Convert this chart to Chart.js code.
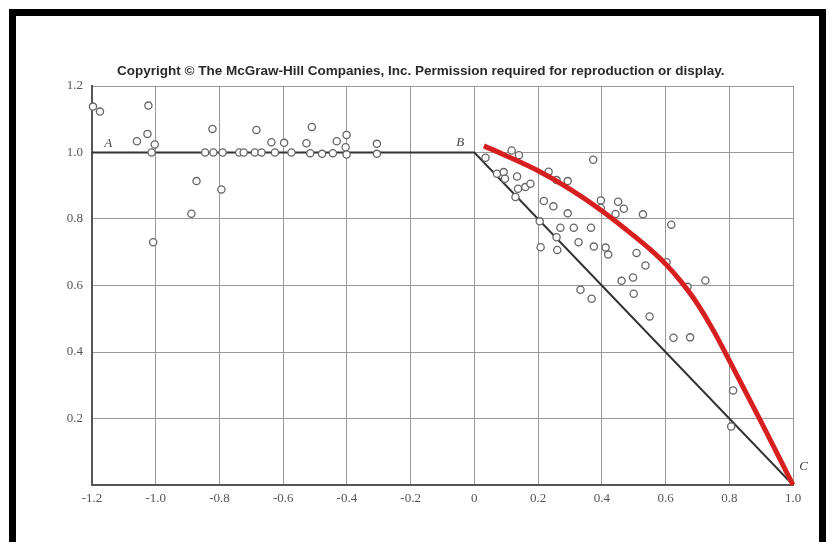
<!DOCTYPE html>
<html>
<head>
<meta charset="utf-8">
<script src="https://cdn.jsdelivr.net/npm/chart.js@4.4.0/dist/chart.umd.min.js"></script>
<style>
  body { margin: 0; background: #fff; }
  #wrap { position: relative; width: 828px; height: 542px; overflow: hidden; }
  #myChart { position: absolute; left: 0; top: 0; filter: blur(0.4px); }
  #frame { position: absolute; left: 9px; top: 9px; width: 803px; height: 540px; border: 7px solid #000; pointer-events: none; }
</style>
</head>
<body>
<div id="wrap">
  <canvas id="myChart" width="828" height="542"></canvas>
  <div id="frame"></div>
</div>
<script>
const ctx = document.getElementById('myChart').getContext('2d');

// tick labels
const xTicks = [-1.2, -1.0, -0.8, -0.6, -0.4, -0.2, 0, 0.2, 0.4, 0.6, 0.8, 1.0];
const yTicks = [0.2, 0.4, 0.6, 0.8, 1.0, 1.2];

// reference line A-B-C
const baseX = [-1.2, 0, 1.0];
const baseY = [1.0, 1.0, 0];

// red fitted curve
const curveX = [0.03, 0.1, 0.2, 0.3, 0.4, 0.5, 0.55, 0.6, 0.65, 0.7, 0.75, 0.8, 0.9, 1.0];
const curveY = [1.02, 0.99, 0.945, 0.89, 0.825, 0.75, 0.71, 0.665, 0.61, 0.545, 0.465, 0.375, 0.19, 0.0];

// measured points, left part (x < 0)
const leftX = [-1.197, -1.175, -1.023, -1.059, -1.026, -1.003, -1.013, -1.008, -0.872, -0.888,
  -0.822, -0.794, -0.845, -0.819, -0.79, -0.738, -0.724, -0.689, -0.668, -0.684,
  -0.637, -0.597, -0.626, -0.574, -0.51, -0.527, -0.515, -0.478, -0.444, -0.432,
  -0.401, -0.404, -0.401, -0.306, -0.306];
const leftY = [1.138, 1.123, 1.141, 1.034, 1.056, 1.024, 1.0, 0.73, 0.914, 0.816,
  1.071, 0.889, 1.0, 1.0, 1.0, 1.0, 1.0, 1.0, 1.0, 1.068,
  1.031, 1.029, 1.0, 1.0, 1.077, 1.028, 0.998, 0.996, 0.998, 1.034,
  1.053, 1.016, 0.994, 1.026, 0.996];

// measured points, right part (x > 0)
const rightX = [0.035, 0.117, 0.14, 0.071, 0.092, 0.096, 0.134, 0.137, 0.16, 0.176,
  0.129, 0.233, 0.258, 0.293, 0.373, 0.218, 0.248, 0.293, 0.205, 0.27,
  0.312, 0.366, 0.397, 0.397, 0.451, 0.469, 0.443, 0.529, 0.618, 0.258,
  0.208, 0.26, 0.327, 0.375, 0.412, 0.42, 0.509, 0.537, 0.603, 0.725,
  0.669, 0.462, 0.498, 0.5, 0.333, 0.368, 0.55, 0.625, 0.677, 0.812, 0.806];
const rightY = [0.984, 1.006, 0.992, 0.936, 0.941, 0.921, 0.928, 0.891, 0.896, 0.906,
  0.866, 0.942, 0.917, 0.914, 0.978, 0.854, 0.838, 0.817, 0.793, 0.774,
  0.774, 0.774, 0.856, 0.833, 0.852, 0.831, 0.815, 0.814, 0.783, 0.745,
  0.715, 0.707, 0.730, 0.717, 0.714, 0.693, 0.698, 0.66, 0.67, 0.615,
  0.596, 0.614, 0.624, 0.575, 0.587, 0.56, 0.507, 0.443, 0.444, 0.284, 0.176];

const toPts = (xs, ys) => xs.map((x, i) => ({ x: x, y: ys[i] }));

const pointsData = toPts(leftX, leftY).concat(toPts(rightX, rightY));

const copyrightText = 'Copyright \u00A9 The McGraw-Hill Companies, Inc. Permission required for reproduction or display.';

// copyright line and the A / B / C labels
const extraText = {
  id: 'extraText',
  afterDraw(chart) {
    const c = chart.ctx;
    const xs = chart.scales.x, ys = chart.scales.y;
    c.save();
    c.fillStyle = '#2a2a2a';
    c.font = 'bold 13.5px "Liberation Sans", Arial, sans-serif';
    c.textBaseline = 'middle';
    c.fillText(copyrightText, 117, 71, 635);
    c.font = 'italic 13px "Liberation Serif", serif';
    c.fillStyle = '#444';
    c.textAlign = 'center';
    c.fillText('A', xs.getPixelForValue(-1.149), ys.getPixelForValue(1.027));
    c.fillText('B', xs.getPixelForValue(-0.044), ys.getPixelForValue(1.03));
    c.fillText('C', xs.getPixelForValue(1.033), ys.getPixelForValue(0.056));
    c.restore();
  }
};

const tickFont = { family: '"Liberation Serif", serif', size: 13 };

const config = {
  type: 'scatter',
  data: {
    datasets: [
      {
        data: toPts(curveX, curveY),
        showLine: true,
        borderColor: '#d81f1f',
        borderWidth: 5,
        pointRadius: 0,
        cubicInterpolationMode: 'monotone',
        clip: false,
        order: 0
      },
      {
        data: pointsData,
        showLine: false,
        pointRadius: 3.6,
        pointBorderWidth: 1.3,
        pointBorderColor: '#666',
        pointBackgroundColor: '#fff',
        clip: false,
        order: 1
      },
      {
        data: toPts(baseX, baseY),
        showLine: true,
        borderColor: '#333',
        borderWidth: 2,
        pointRadius: 0,
        order: 2
      }
    ]
  },
  options: {
    responsive: false,
    animation: false,
    layout: { padding: { top: 86, right: 35, left: 0, bottom: 0 } },
    plugins: { legend: { display: false }, tooltip: { enabled: false } },
    scales: {
      x: {
        type: 'linear',
        min: -1.2,
        max: 1.0,
        afterBuildTicks: (scale) => { scale.ticks = xTicks.map(v => ({ value: v })); },
        afterFit: (scale) => { scale.height = 57; },
        ticks: {
          color: '#555',
          font: tickFont,
          padding: 6,
          callback: (v) => Math.abs(v) < 1e-9 ? '0' : v.toFixed(1)
        },
        grid: { color: '#999', lineWidth: 1, drawTicks: false },
        border: { color: '#555', width: 2 }
      },
      y: {
        type: 'linear',
        min: 0,
        max: 1.2,
        afterBuildTicks: (scale) => { scale.ticks = [0].concat(yTicks).map(v => ({ value: v })); },
        afterFit: (scale) => { scale.width = 92; },
        ticks: {
          color: '#555',
          font: tickFont,
          padding: 9,
          callback: (v) => Math.abs(v) < 1e-9 ? '' : v.toFixed(1)
        },
        grid: { color: '#999', lineWidth: 1, drawTicks: false },
        border: { color: '#555', width: 2 }
      }
    }
  },
  plugins: [extraText]
};

const myChart = new Chart(ctx, config);
</script>
</body>
</html>
